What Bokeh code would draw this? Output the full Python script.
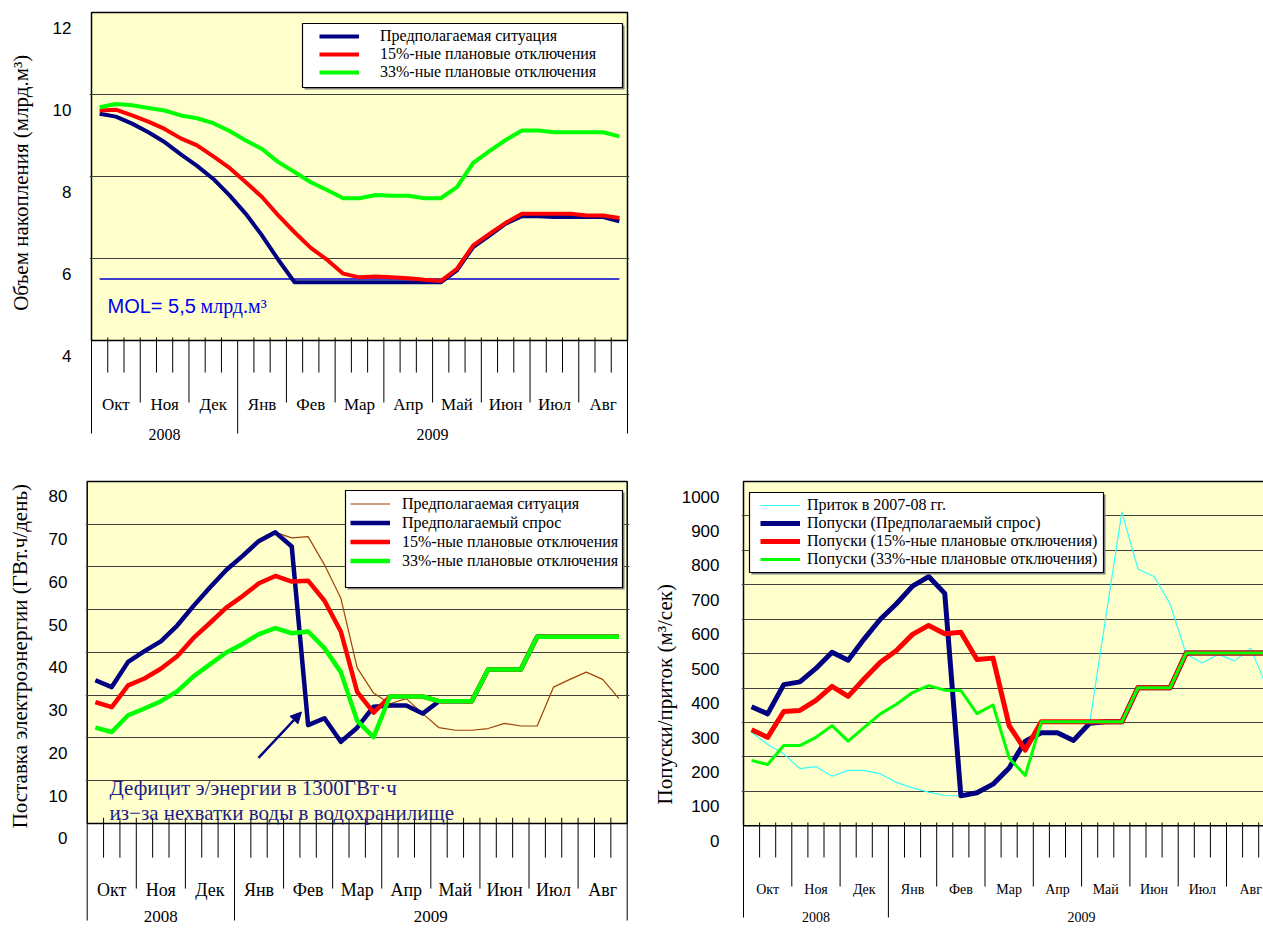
import math
from bokeh.plotting import figure
from bokeh.models import (Range1d, LinearAxis, FixedTicker, Grid, BoxAnnotation, Legend,
                          LegendItem, Label, Arrow, NormalHead)
from bokeh.layouts import column, row
from bokeh.embed import file_html
from bokeh.resources import INLINE
from bokeh.core.properties import value

# ---------------------------------------------------------------- data
MONTHS = ["Окт", "Ноя", "Дек", "Янв", "Фев", "Мар", "Апр", "Май", "Июн", "Июл", "Авг"]
YEARS = ["2008", "2009"]
MONTHS_PER_YEAR = [3, 8]
DEKADS_PER_MONTH = 3

# chart 1 : storage volume, bln m3 (one value per dekad)
STORAGE_BASE = [9.53, 9.46, 9.29, 9.08, 8.84, 8.54, 8.26, 7.94, 7.54, 7.09, 6.56, 5.97,
                5.42, 5.42, 5.42, 5.42, 5.42, 5.42, 5.42, 5.42, 5.42, 5.42,
                5.71, 6.28, 6.56, 6.85, 7.03, 7.03, 7.01, 7.01, 7.01, 7.01, 6.91]
STORAGE_15 = [9.61, 9.63, 9.49, 9.34, 9.16, 8.93, 8.76, 8.49, 8.21, 7.86, 7.50, 7.05,
              6.64, 6.26, 5.97, 5.63, 5.54, 5.56, 5.54, 5.52, 5.48, 5.45,
              5.75, 6.32, 6.60, 6.87, 7.09, 7.09, 7.09, 7.09, 7.05, 7.05, 6.99]
STORAGE_33 = [9.69, 9.77, 9.74, 9.67, 9.61, 9.49, 9.42, 9.30, 9.11, 8.88, 8.67, 8.35,
              8.11, 7.86, 7.67, 7.47, 7.47, 7.55, 7.53, 7.53, 7.47, 7.47,
              7.74, 8.33, 8.62, 8.89, 9.12, 9.12, 9.08, 9.08, 9.08, 9.08, 8.98]
MOL_LEVEL = 5.5
STORAGE_TICKS = [4, 6, 8, 10, 12]
STORAGE_GRID = [6, 8, 10]

# chart 2 : electricity supply, GWh/day
ENERGY_SITUATION = [33.5, 31.9, 37.8, 40.3, 42.6, 46.3, 50.9, 55.2, 59.3, 62.6, 66.1, 68.1,
                    66.8, 67.1, 60.5, 52.7, 36.4, 30.5, 28.0, 29.2, 25.7, 22.4,
                    21.8, 21.8, 22.2, 23.4, 22.8, 22.8, 31.9, 33.7, 35.4, 33.7, 29.2]
ENERGY_DEMAND = [33.5, 31.9, 37.8, 40.3, 42.6, 46.3, 50.9, 55.2, 59.3, 62.6, 66.1, 68.1,
                 64.8, 23.0, 24.6, 19.1, 22.4, 27.3, 27.6, 27.6, 25.7, 28.6,
                 28.6, 28.6, 36.0, 36.0, 36.0, 43.7, 43.7, 43.7, 43.7, 43.7, 43.7]
ENERGY_15 = [28.4, 27.2, 32.3, 33.9, 36.2, 39.1, 43.4, 46.9, 50.5, 53.2, 56.2, 57.9,
             56.6, 56.8, 52.1, 44.9, 30.8, 25.9, 29.7, 29.7, 29.7, 28.6,
             28.6, 28.6, 36.0, 36.0, 36.0, 43.7, 43.7, 43.7, 43.7, 43.7, 43.7]
ENERGY_33 = [22.4, 21.4, 25.3, 26.9, 28.6, 30.9, 34.4, 37.2, 40.0, 42.0, 44.3, 45.7,
             44.5, 44.9, 41.0, 35.4, 24.0, 20.2, 29.7, 29.7, 29.7, 28.6,
             28.6, 28.6, 36.0, 36.0, 36.0, 43.7, 43.7, 43.7, 43.7, 43.7, 43.7]
ENERGY_TICKS = [0, 10, 20, 30, 40, 50, 60, 70, 80]
ENERGY_GRID = [10, 20, 30, 40, 50, 60, 70]

# chart 3 : releases / inflow, m3/s
INFLOW_0708 = [272, 236, 209, 166, 172, 144, 161, 161, 151, 126, 110, 98,
               88, 87, 96, 121, 168, 246, 270, 270, 248, 298,
               605, 911, 746, 724, 644, 498, 473, 498, 479, 516, 403]
RELEASE_DEMAND = [346, 325, 410, 418, 457, 504, 481, 543, 600, 645, 696, 724,
                  675, 87, 96, 121, 168, 246, 270, 270, 248, 298,
                  302, 302, 401, 401, 401, 502, 502, 502, 502, 502, 502]
RELEASE_15 = [279, 257, 332, 335, 364, 405, 376, 427, 475, 509, 556, 582,
              558, 562, 483, 487, 291, 220, 302, 302, 302, 302,
              302, 302, 401, 401, 401, 502, 502, 502, 502, 502, 502]
RELEASE_33 = [190, 178, 233, 233, 257, 291, 246, 286, 325, 353, 387, 407,
              394, 393, 326, 351, 197, 146, 302, 302, 302, 302,
              302, 302, 401, 401, 401, 502, 502, 502, 502, 502, 502]
RELEASE_TICKS = [0, 100, 200, 300, 400, 500, 600, 700, 800, 900, 1000]
RELEASE_GRID = [100, 200, 300, 400, 500, 600, 700, 800, 900]

# ---------------------------------------------------------------- style
NAVY = "#000080"
RED = "#FF0000"
GREEN = "#00FF00"
BROWN = "#A0400A"
CYAN = "#33FFFF"
YELLOW = "#FFFFCC"
GRIDC = "#404040"
SERIF = "Liberation Serif"
SANS = "Liberation Sans"

N_DEK = len(MONTHS) * DEKADS_PER_MONTH
CENTERS = [i + 0.5 for i in range(N_DEK)]


class Chart:
    def __init__(self, fig_left, fig_top, fig_w, fig_h, FL, FR, FT, FB,
                 X0, XPX, yref_val, yref_px, ypx):
        self.FL, self.FB = FL, FB
        self.X0, self.XPX = X0, XPX
        self.yref_val, self.yref_px, self.ypx = yref_val, yref_px, ypx
        p = figure(width=fig_w, height=fig_h,
                   x_range=Range1d(self.dx(FL), self.dx(FR)),
                   y_range=Range1d(self.dy(FB), self.dy(FT)),
                   x_axis_location=None, y_axis_location=None,
                   toolbar_location=None, output_backend="svg", title=None,
                   min_border_left=FL - fig_left, min_border_right=fig_left + fig_w - FR,
                   min_border_top=FT - fig_top, min_border_bottom=fig_top + fig_h - FB)
        p.xgrid.visible = False
        p.ygrid.visible = False
        p.outline_line_color = None
        p.background_fill_color = "white"
        p.border_fill_color = "white"
        self.p = p

    def dx(self, px):
        return (px - self.X0) / self.XPX

    def dy(self, py):
        return self.yref_val + (self.yref_px - py) / self.ypx

    def sx(self, px):
        return px - self.FL

    def sy(self, py):
        return self.FB - py


def title_strip(left, top, w, h, text, cx, cy, fs="21px"):
    t = figure(width=w, height=h, x_range=Range1d(0, w), y_range=Range1d(0, h),
               x_axis_location=None, y_axis_location=None, toolbar_location=None,
               output_backend="svg", title=None, min_border=0,
               min_border_left=0, min_border_right=0, min_border_top=0, min_border_bottom=0)
    t.xgrid.visible = False
    t.ygrid.visible = False
    t.outline_line_color = None
    t.text(x=[cx - left], y=[h - (cy - top)], text=[text], angle=math.pi / 2,
           text_align="center", text_baseline="middle", text_font=value(SERIF),
           text_font_size=value(fs), text_color="black")
    return t


def setup_plot_area(ch, bottom_val, top_val, ticks, grid_ticks, standoff, tick_fs):
    p = ch.p
    p.add_layout(BoxAnnotation(left=0, right=N_DEK, bottom=bottom_val, top=top_val,
                               fill_color=YELLOW, fill_alpha=1, line_color="black",
                               line_alpha=1, line_width=1.5, level="image"))
    p.add_layout(Grid(dimension=1, ticker=FixedTicker(ticks=grid_ticks),
                      grid_line_color=GRIDC, grid_line_width=1.2))
    d = 15 / ch.ypx
    p.extra_y_ranges = {"lab": Range1d(p.y_range.start + d, p.y_range.end + d)}
    ax = LinearAxis(y_range_name="lab", ticker=FixedTicker(ticks=ticks),
                    axis_line_color=None, major_tick_line_color=None,
                    minor_tick_line_color=None, major_tick_out=0, major_tick_in=0,
                    minor_tick_out=0, minor_tick_in=0,
                    major_label_standoff=standoff, major_label_text_font=SANS,
                    major_label_text_font_size=tick_fs, major_label_text_color="black")
    p.add_layout(ax, "left")


def draw_time_axis(ch, dek, mon, yr, mon_py, yr_py, mon_fs, yr_fs):
    p = ch.p
    month_b = set(range(0, N_DEK + 1, DEKADS_PER_MONTH))
    year_b = {0}
    acc = 0
    for m in MONTHS_PER_YEAR:
        acc += m * DEKADS_PER_MONTH
        year_b.add(acc)
    xs, y0, y1 = [], [], []
    for b in range(N_DEK + 1):
        top, bot = yr if b in year_b else (mon if b in month_b else dek)
        xs.append(b)
        y0.append(ch.dy(top))
        y1.append(ch.dy(bot))
    p.segment(x0=xs, y0=y0, x1=xs, y1=y1, line_color="black", line_width=1)
    mx = [m * DEKADS_PER_MONTH + DEKADS_PER_MONTH / 2 for m in range(len(MONTHS))]
    p.text(x=mx, y=[ch.dy(mon_py)] * len(MONTHS), text=MONTHS, text_align="center",
           text_baseline="middle", text_font=value(SERIF), text_font_size=value(mon_fs),
           text_color="black")
    yx, acc = [], 0
    for m in MONTHS_PER_YEAR:
        yx.append(acc + m * DEKADS_PER_MONTH / 2)
        acc += m * DEKADS_PER_MONTH
    p.text(x=yx, y=[ch.dy(yr_py)] * len(YEARS), text=YEARS, text_align="center",
           text_baseline="middle", text_font=value(SERIF), text_font_size=value(yr_fs),
           text_color="black")


def add_legend(ch, items, box, glyph_left, rows_top, row_h, standoff, fs):
    p = ch.p
    l, t, r, b = box
    p.add_layout(BoxAnnotation(left=ch.sx(l + 2), right=ch.sx(r + 2), top=ch.sy(t + 2),
                               bottom=ch.sy(b + 2), left_units="screen", right_units="screen",
                               top_units="screen", bottom_units="screen",
                               fill_color="#808080", fill_alpha=1, line_alpha=0,
                               level="annotation"))
    p.add_layout(BoxAnnotation(left=ch.sx(l), right=ch.sx(r), top=ch.sy(t), bottom=ch.sy(b),
                               left_units="screen", right_units="screen",
                               top_units="screen", bottom_units="screen",
                               fill_color="white", fill_alpha=1, line_color="black",
                               line_alpha=1, line_width=1.2, level="annotation"))
    n = len(items)
    leg = Legend(items=[LegendItem(label=lab, renderers=[rr]) for lab, rr in items],
                 location=(ch.sx(glyph_left), ch.sy(rows_top + n * row_h)),
                 orientation="vertical", padding=0, spacing=0, margin=0,
                 glyph_width=40, glyph_height=row_h, label_height=row_h,
                 label_standoff=standoff, label_text_font=SERIF,
                 label_text_font_size=fs, label_text_color="black",
                 border_line_color=None, background_fill_alpha=0)
    p.add_layout(leg)


# ================================================================ chart 1
t1 = title_strip(0, 0, 44, 468, "Объем накопления (млрд.м³)", 20, 176)
c1 = Chart(44, 0, 596, 468, FL=89, FR=629, FT=10, FB=468,
           X0=91, XPX=536 / 33, yref_val=12, yref_px=12, ypx=41)
setup_plot_area(c1, 4, 12, STORAGE_TICKS, STORAGE_GRID, 18, "17px")
draw_time_axis(c1, dek=(337, 372), mon=(337, 402), yr=(340, 433),
               mon_py=404, yr_py=434, mon_fs="17px", yr_fs="16px")
p1 = c1.p
p1.line(CENTERS, [MOL_LEVEL] * N_DEK, line_color="#0000CC", line_width=1.5)
r1a = p1.line(CENTERS, STORAGE_BASE, line_color=NAVY, line_width=4, line_join="round")
r1b = p1.line(CENTERS, STORAGE_15, line_color=RED, line_width=4, line_join="round")
r1c = p1.line(CENTERS, STORAGE_33, line_color=GREEN, line_width=4, line_join="round")
add_legend(c1, [("Предполагаемая ситуация", r1a),
                ("15%-ные плановые отключения", r1b),
                ("33%-ные плановые отключения", r1c)],
           box=(302, 23, 622, 87), glyph_left=319, rows_top=27, row_h=18,
           standoff=21, fs="16px")
p1.add_layout(Label(x=c1.dx(107), y=c1.dy(305), text="MOL= 5,5", text_align="left",
                    text_baseline="middle", text_font=SANS, text_font_size="20px",
                    text_color="#0000EE"))
p1.add_layout(Label(x=c1.dx(200), y=c1.dy(305), text="млрд.м³", text_align="left",
                    text_baseline="middle", text_font=SERIF, text_font_size="20px",
                    text_color="#0000EE"))

# ================================================================ chart 2
t2 = title_strip(0, 468, 40, 461, "Поставка электроэнергии (ГВт.ч/день)", 19, 649)
c2 = Chart(40, 468, 600, 461, FL=85, FR=629, FT=478, FB=929,
           X0=86.7, XPX=540 / 33, yref_val=0, yref_px=822.7, ypx=342.7 / 80)
setup_plot_area(c2, 0, 80, ENERGY_TICKS, ENERGY_GRID, 18, "17px")
draw_time_axis(c2, dek=(817, 857), mon=(817, 888), yr=(823, 920),
               mon_py=889, yr_py=916, mon_fs="18px", yr_fs="17px")
p2 = c2.p
r2a = p2.line(CENTERS, ENERGY_SITUATION, line_color=BROWN, line_width=1.2, line_join="round")
r2b = p2.line(CENTERS, ENERGY_DEMAND, line_color=NAVY, line_width=4.5, line_join="round")
r2c = p2.line(CENTERS, ENERGY_15, line_color=RED, line_width=4.5, line_join="round")
r2d = p2.line(CENTERS, ENERGY_33, line_color=GREEN, line_width=4.5, line_join="round")
add_legend(c2, [("Предполагаемая ситуация", r2a),
                ("Предполагаемый спрос", r2b),
                ("15%-ные плановые отключения", r2c),
                ("33%-ные плановые отключения", r2d)],
           box=(345, 490, 622, 587), glyph_left=350, rows_top=494, row_h=19,
           standoff=12, fs="16px")
p2.add_layout(Arrow(end=NormalHead(size=11, fill_color=NAVY, line_color=NAVY),
                    x_start=c2.dx(258), y_start=c2.dy(757), x_end=c2.dx(301), y_end=c2.dy(711),
                    line_color=NAVY, line_width=2.5))
p2.add_layout(Label(x=c2.dx(109), y=c2.dy(787), text="Дефицит э/энергии в 1300ГВт·ч",
                    text_align="left", text_baseline="middle", text_font=SERIF,
                    text_font_size="21px", text_color="#1E1E8A"))
p2.add_layout(Label(x=c2.dx(109), y=c2.dy(812), text="из−за нехватки воды в водохранилище",
                    text_align="left", text_baseline="middle", text_font=SERIF,
                    text_font_size="21px", text_color="#1E1E8A"))

# ================================================================ chart 3
t3 = title_strip(640, 468, 38, 461, "Попуски/приток (м³/сек)", 664, 688, fs="21px")
c3 = Chart(678, 468, 585, 461, FL=741, FR=1263, FT=479, FB=929,
           X0=743, XPX=16.1, yref_val=0, yref_px=825.3, ypx=344.3 / 1000)
setup_plot_area(c3, 0, 1000, RELEASE_TICKS, RELEASE_GRID, 22, "17px")
draw_time_axis(c3, dek=(822, 857), mon=(822, 886), yr=(825, 917),
               mon_py=889, yr_py=916, mon_fs="14px", yr_fs="14px")
p3 = c3.p
r3a = p3.line(CENTERS, INFLOW_0708, line_color=CYAN, line_width=1.2, line_join="round")
r3b = p3.line(CENTERS, RELEASE_DEMAND, line_color=NAVY, line_width=5, line_join="round")
r3c = p3.line(CENTERS, RELEASE_15, line_color=RED, line_width=5, line_join="round")
r3d = p3.line(CENTERS, RELEASE_33, line_color=GREEN, line_width=3, line_join="round")
add_legend(c3, [("Приток в 2007-08 гг.", r3a),
                ("Попуски (Предполагаемый спрос)", r3b),
                ("Попуски (15%-ные плановые отключения)", r3c),
                ("Попуски (33%-ные плановые отключения)", r3d)],
           box=(749, 492, 1103, 572), glyph_left=760, rows_top=496, row_h=18,
           standoff=7, fs="16px")

layout = column(row(t1, p1), row(t2, p2, t3, p3))
open("out.html", "w").write(file_html(layout, INLINE))
